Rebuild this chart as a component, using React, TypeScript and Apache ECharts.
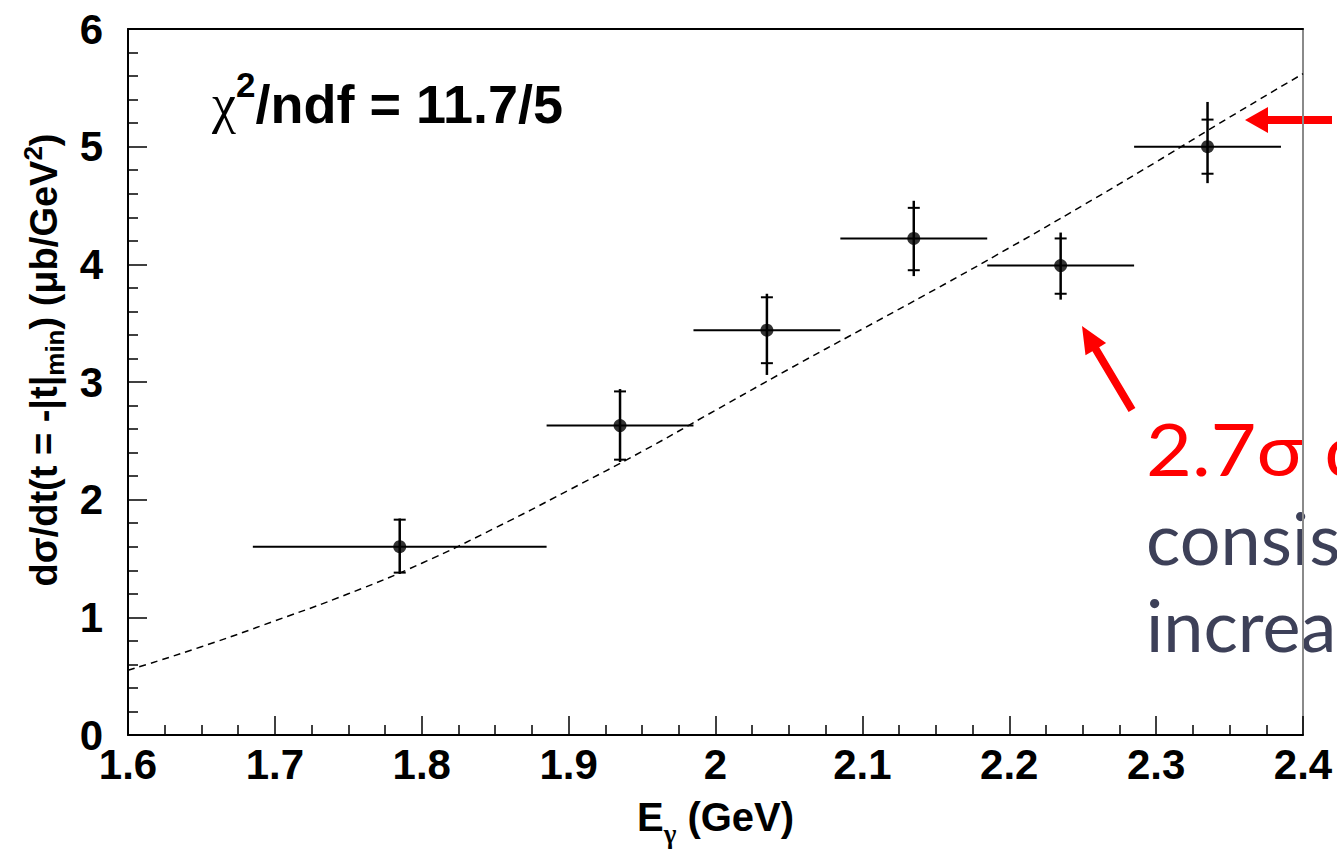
import React, { useEffect, useRef } from "react";
import * as echarts from "echarts";

// ---- data ----
const xTickLabels = ["1.6", "1.7", "1.8", "1.9", "2", "2.1", "2.2", "2.3", "2.4"];
const yTickLabels = ["0", "1", "2", "3", "4", "5", "6"];

const energy = [1.785, 1.935, 2.035, 2.135, 2.235, 2.335];
const binHalfWidth = [0.1, 0.05, 0.05, 0.05, 0.05, 0.05];
const xsec = [1.6, 2.63, 3.44, 4.22, 3.99, 5.0];
const statHigh = [1.83, 2.92, 3.72, 4.48, 4.22, 5.23];
const statLow = [1.38, 2.34, 3.16, 3.95, 3.75, 4.77];
const totHigh = [1.84, 2.94, 3.75, 4.54, 4.27, 5.38];
const totLow = [1.37, 2.32, 3.06, 3.9, 3.7, 4.69];

const fitE = [1.6, 1.65, 1.7, 1.75, 1.8, 1.85, 1.9, 1.95, 2.0, 2.05, 2.1, 2.15, 2.2, 2.25, 2.3, 2.35, 2.4];
const fitXsec = [0.55, 0.75, 0.97, 1.2, 1.46, 1.76, 2.08, 2.41, 2.76, 3.11, 3.45, 3.79, 4.14, 4.5, 4.87, 5.25, 5.62];

const chiText = "/ndf = 11.7/5";
const noteRed = "2.7σ deviation";
const noteLine1 = "consistent";
const noteLine2 = "increase";

const SANS = "'Liberation Sans', Arial, Helvetica, sans-serif";
const SERIF = "'Liberation Serif', 'DejaVu Serif', serif";

export default function App() {
  const ref = useRef<HTMLDivElement>(null);

  useEffect(() => {
    if (!ref.current) return;
    const chart = echarts.init(ref.current, null, { renderer: "svg" });

    const errData = energy.map((e, i) => [
      e,
      xsec[i],
      e - binHalfWidth[i],
      e + binHalfWidth[i],
      statLow[i],
      statHigh[i],
      totLow[i],
      totHigh[i],
    ]);

    const renderErr = (params: any, api: any) => {
      const x = api.value(0);
      const y = api.value(1);
      const c = api.coord([x, y]);
      const l = api.coord([api.value(2), y]);
      const r = api.coord([api.value(3), y]);
      const sLo = api.coord([x, api.value(4)]);
      const sHi = api.coord([x, api.value(5)]);
      const tLo = api.coord([x, api.value(6)]);
      const tHi = api.coord([x, api.value(7)]);
      const st = { stroke: "#000", lineWidth: 2 };
      const cap = 6;
      return {
        type: "group",
        children: [
          { type: "line", shape: { x1: l[0], y1: c[1], x2: r[0], y2: c[1] }, style: st },
          { type: "line", shape: { x1: c[0], y1: tLo[1], x2: c[0], y2: tHi[1] }, style: { stroke: "#000", lineWidth: 2.5 } },
          { type: "line", shape: { x1: c[0] - cap, y1: sLo[1], x2: c[0] + cap, y2: sLo[1] }, style: st },
          { type: "line", shape: { x1: c[0] - cap, y1: sHi[1], x2: c[0] + cap, y2: sHi[1] }, style: st },
        ],
      };
    };

    const option: any = {
      animation: false,
      backgroundColor: "#fff",
      grid: { left: 128, right: 34, top: 29, bottom: 115, containLabel: false },
      xAxis: [
        {
          type: "value",
          min: 1.6,
          max: 2.4,
          interval: 0.1,
          axisLine: { show: true, onZero: false, lineStyle: { color: "#000", width: 2 } },
          axisTick: { show: true, inside: true, length: 19, lineStyle: { color: "#000", width: 1.5 } },
          minorTick: { show: true, splitNumber: 4, length: 10, lineStyle: { color: "#000", width: 1.5 } },
          splitLine: { show: false },
          axisLabel: {
            showMinLabel: true,
            showMaxLabel: true,
            margin: 8,
            color: "#000",
            fontFamily: SANS,
            fontWeight: "bold",
            fontSize: 42,
            formatter: (v: number) => xTickLabels[Math.round((v - 1.6) / 0.1)] ?? "",
          },
          name: "{b|E}{sub|γ}{b| (GeV)}",
          nameLocation: "middle",
          nameGap: 62,
          nameTextStyle: {
            color: "#000",
            fontFamily: SANS,
            fontWeight: "bold",
            fontSize: 40,
            rich: {
              b: { fontFamily: SANS, fontWeight: "bold", fontSize: 40, color: "#000", lineHeight: 50, verticalAlign: "top" },
              sub: { fontFamily: SERIF, fontSize: 27, color: "#000", lineHeight: 50, verticalAlign: "bottom" },
            },
          },
        },
        {
          type: "value",
          position: "top",
          min: 1.6,
          max: 2.4,
          axisLine: { show: true, onZero: false, lineStyle: { color: "#000", width: 2 } },
          axisTick: { show: false },
          axisLabel: { show: false },
          splitLine: { show: false },
        },
      ],
      yAxis: [
        {
          type: "value",
          min: 0,
          max: 6,
          interval: 1,
          axisLine: { show: true, onZero: false, lineStyle: { color: "#000", width: 2 } },
          axisTick: { show: true, inside: true, length: 19, lineStyle: { color: "#000", width: 1.5 } },
          minorTick: { show: true, splitNumber: 5, length: 10, lineStyle: { color: "#000", width: 1.5 } },
          splitLine: { show: false },
          axisLabel: {
            showMinLabel: true,
            showMaxLabel: true,
            margin: 25,
            color: "#000",
            fontFamily: SANS,
            fontWeight: "bold",
            fontSize: 42,
            formatter: (v: number) => yTickLabels[Math.round(v)] ?? "",
          },
          name: "{b|dσ/dt(t = -|t|}{sub|min}{b|) (μb/GeV}{sup|2}{b|)}",
          nameLocation: "middle",
          nameRotate: 90,
          nameGap: 60,
          nameTextStyle: {
            color: "#000",
            fontFamily: SANS,
            fontWeight: "bold",
            fontSize: 38,
            padding: [0, 0, 0, 44],
            rich: {
              b: { fontFamily: SANS, fontWeight: "bold", fontSize: 38, color: "#000", lineHeight: 48 },
              sub: { fontFamily: SANS, fontWeight: "bold", fontSize: 26, color: "#000", lineHeight: 48, verticalAlign: "bottom" },
              sup: { fontFamily: SANS, fontWeight: "bold", fontSize: 26, color: "#000", lineHeight: 48, verticalAlign: "top" },
            },
          },
        },
        {
          type: "value",
          position: "right",
          min: 0,
          max: 6,
          axisLine: { show: true, onZero: false, lineStyle: { color: "#8a8a8a", width: 2 } },
          axisTick: { show: false },
          axisLabel: { show: false },
          splitLine: { show: false },
        },
      ],
      series: [
        {
          type: "line",
          data: fitE.map((e, i) => [e, fitXsec[i]]),
          smooth: true,
          symbol: "none",
          lineStyle: { color: "#000", width: 1.5, type: [7, 5] },
          z: 2,
        },
        {
          type: "custom",
          data: errData,
          renderItem: renderErr,
          encode: { x: [0, 2, 3], y: [1, 4, 5, 6, 7] },
          z: 3,
        },
        {
          type: "scatter",
          data: energy.map((e, i) => [e, xsec[i]]),
          symbol: "circle",
          symbolSize: 13,
          itemStyle: { color: "#000" },
          z: 4,
        },
      ],
      graphic: [
        {
          type: "text",
          left: 212,
          top: 67,
          style: {
            text: "{chi|χ}{sup|2}{b|" + chiText + "}",
            rich: {
              chi: { fontFamily: SERIF, fontSize: 54, fill: "#000", lineHeight: 64, verticalAlign: "bottom" },
              sup: { fontFamily: SANS, fontWeight: "bold", fontSize: 35, fill: "#000", lineHeight: 64, verticalAlign: "top" },
              b: { fontFamily: SANS, fontWeight: "bold", fontSize: 54, fill: "#000", lineHeight: 64, verticalAlign: "bottom" },
            },
          },
        },
        {
          type: "polygon",
          shape: {
            points: [
              [1245, 120], [1268, 107], [1268, 116], [1332, 116], [1332, 124], [1268, 124], [1268, 133],
            ],
          },
          style: { fill: "#ff0000" },
        },
        {
          type: "polygon",
          shape: {
            points: [
              [1082, 326], [1106.1, 343.1], [1099.2, 347.2], [1135.4, 408], [1128.6, 412], [1092.4, 351.2], [1085.5, 355.3],
            ],
          },
          style: { fill: "#ff0000" },
        },
        {
          type: "text",
          x: 1146,
          y: 448,
          scaleX: 1.1,
          style: { text: noteRed, font: "72px Lato", fill: "#ff0000", textVerticalAlign: "middle" },
        },
        {
          type: "text",
          x: 1146,
          y: 537,
          style: { text: noteLine1, font: "72px Lato", fill: "#3d4058", textVerticalAlign: "middle" },
        },
        {
          type: "text",
          x: 1146,
          y: 624,
          style: { text: noteLine2, font: "72px Lato", fill: "#3d4058", textVerticalAlign: "middle" },
        },
      ],
    };

    chart.setOption(option);
    return () => chart.dispose();
  }, []);

  return (
    <div
      ref={ref}
      style={{ position: "fixed", left: 0, top: 0, width: "1337px", height: "852px", background: "#fff" }}
    />
  );
}
